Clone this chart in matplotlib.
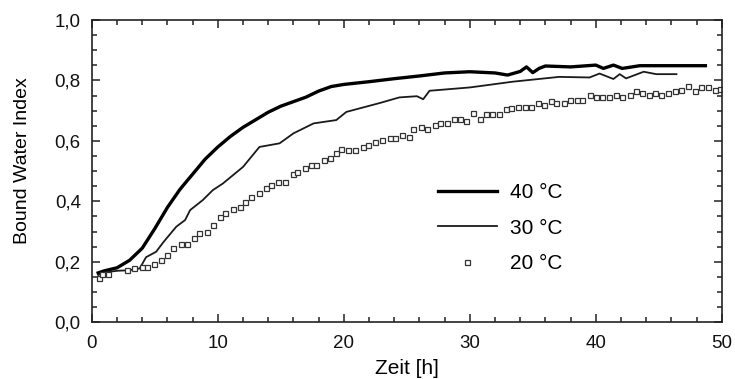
import matplotlib
matplotlib.use("Agg")
import matplotlib.pyplot as plt
from matplotlib.ticker import MultipleLocator, FuncFormatter

plt.rcParams["font.family"] = ["Liberation Sans", "DejaVu Sans"]

# 40 °C (thick line)
t40 = [0.5, 1, 2, 3, 4, 5, 6, 7, 8, 9, 10, 11, 12, 13, 14, 15, 16, 17, 18, 19,
       20, 22, 24, 26, 28, 30, 32, 33, 34, 34.5, 35, 35.5, 36, 38, 40, 40.6,
       41.4, 42.1, 43.5, 46, 48.7]
b40 = [0.163, 0.17, 0.18, 0.205, 0.245, 0.31, 0.38, 0.44, 0.49, 0.54, 0.58,
       0.615, 0.645, 0.67, 0.695, 0.715, 0.73, 0.745, 0.765, 0.78, 0.787, 0.796,
       0.806, 0.815, 0.825, 0.829, 0.825, 0.818, 0.83, 0.845, 0.826, 0.84,
       0.848, 0.845, 0.851, 0.84, 0.851, 0.84, 0.849, 0.849, 0.849]

# 30 °C (thin line)
t30 = [0.5, 1, 2, 3, 3.8, 4.3, 5.1, 5.7, 6.7, 7.4, 7.8, 8.8, 9.6, 10.4, 12,
       13.3, 14.9, 16, 17.6, 19.4, 20.2, 22.9, 24.4, 25.8, 26.3, 26.8, 30,
       33.4, 37.1, 39.5, 40.3, 41.4, 41.9, 42.4, 43.8, 44.8, 46.4]
b30 = [0.156, 0.165, 0.17, 0.172, 0.178, 0.215, 0.233, 0.266, 0.316, 0.338,
       0.371, 0.404, 0.437, 0.459, 0.514, 0.58, 0.592, 0.625, 0.658, 0.669,
       0.696, 0.726, 0.744, 0.748, 0.738, 0.766, 0.777, 0.796, 0.812, 0.81,
       0.823, 0.805, 0.821, 0.807, 0.829, 0.821, 0.821]

# 20 °C (open squares)
t20 = [0.6, 0.8, 1.3, 2.75, 3.33, 3.94, 4.34, 4.92, 5.45, 5.98, 6.45, 7.04,
       7.57, 8.1, 8.5, 9.1, 9.63, 10.2, 10.6, 11.2, 11.75, 12.14, 12.67, 13.28,
       13.86, 14.18, 14.79, 15.32, 15.98, 16.3, 16.9, 17.4, 17.8, 18.4, 18.9,
       19.4, 19.8, 20.3, 20.9, 21.5, 21.9, 22.5, 22.99, 23.65, 24.05, 24.58,
       25.19, 25.5, 26.16, 26.64, 27.22, 27.67, 28.15, 28.73, 29.2, 29.68,
       30.27, 30.79, 31.27, 31.8, 32.33, 32.91, 33.3, 33.84, 34.37, 34.89,
       35.42, 35.9, 36.48, 36.88, 37.46, 37.94, 38.47, 38.94, 39.52, 40.05,
       40.53, 41.06, 41.59, 42.1, 42.7, 43.17, 43.7, 44.23, 44.68, 45.21,
       45.74, 46.27, 46.8, 47.33, 47.86, 48.39, 48.92, 49.44, 49.84]
b20 = [0.145, 0.158, 0.158, 0.172, 0.179, 0.183, 0.181, 0.192, 0.205, 0.222,
       0.244, 0.258, 0.258, 0.277, 0.294, 0.299, 0.321, 0.349, 0.36, 0.376,
       0.382, 0.398, 0.415, 0.428, 0.443, 0.454, 0.465, 0.465, 0.492, 0.498,
       0.509, 0.52, 0.52, 0.536, 0.542, 0.559, 0.573, 0.57, 0.57, 0.581, 0.586,
       0.597, 0.603, 0.608, 0.608, 0.619, 0.614, 0.641, 0.647, 0.639, 0.652,
       0.658, 0.658, 0.671, 0.671, 0.667, 0.693, 0.674, 0.688, 0.688, 0.688,
       0.704, 0.708, 0.713, 0.713, 0.713, 0.726, 0.719, 0.732, 0.724, 0.724,
       0.735, 0.735, 0.735, 0.752, 0.746, 0.746, 0.746, 0.752, 0.744, 0.752,
       0.766, 0.757, 0.752, 0.759, 0.752, 0.757, 0.766, 0.770, 0.781, 0.766,
       0.777, 0.779, 0.770, 0.773]

fig = plt.figure(figsize=(7.35, 3.79), dpi=100)
ax = fig.add_axes([0.125, 0.150, 0.857, 0.797])

ax.plot(t40, b40, color="black", lw=2.4, label="40 °C")
ax.plot(t30, b30, color="#1a1a1a", lw=1.3, label="30 °C")
ax.plot(t20, b20, ls="none", marker="s", ms=3.6, mfc="white",
        mec="#333333", mew=0.9, label="20 °C")

ax.set_xlim(0, 50)
ax.set_ylim(0, 1.0)
ax.xaxis.set_major_locator(MultipleLocator(10))
ax.xaxis.set_minor_locator(MultipleLocator(2))
ax.yaxis.set_major_locator(MultipleLocator(0.2))
ax.yaxis.set_minor_locator(MultipleLocator(0.05))
ax.yaxis.set_major_formatter(FuncFormatter(lambda v, p: f"{v:.1f}".replace(".", ",")))
ax.tick_params(which="both", direction="in", top=True, right=True,
               labelsize=13.5, width=1.1, color="#222222", labelcolor="#111111")
ax.tick_params(which="major", length=6)
ax.tick_params(axis="x", which="major", pad=9)
ax.tick_params(axis="y", which="major", pad=8)
ax.tick_params(which="minor", length=3.5)
for s in ax.spines.values():
    s.set_linewidth(1.2)
    s.set_color("#222222")

ax.set_xlabel("Zeit [h]", fontsize=15)
ax.set_ylabel("Bound Water Index", fontsize=14)
ax.xaxis.set_label_coords(0.5, -0.152)
ax.xaxis.label.set_va("center")
ax.yaxis.set_label_coords(-0.110, 0.536)
ax.yaxis.label.set_va("center")

ax.legend(loc="center left", bbox_to_anchor=(0.549, 0.311), frameon=False,
          fontsize=15, handlelength=2.83, handletextpad=0.63, labelspacing=0.78,
          borderpad=0, borderaxespad=0)

fig.savefig("out.png", dpi=100, facecolor="white")
